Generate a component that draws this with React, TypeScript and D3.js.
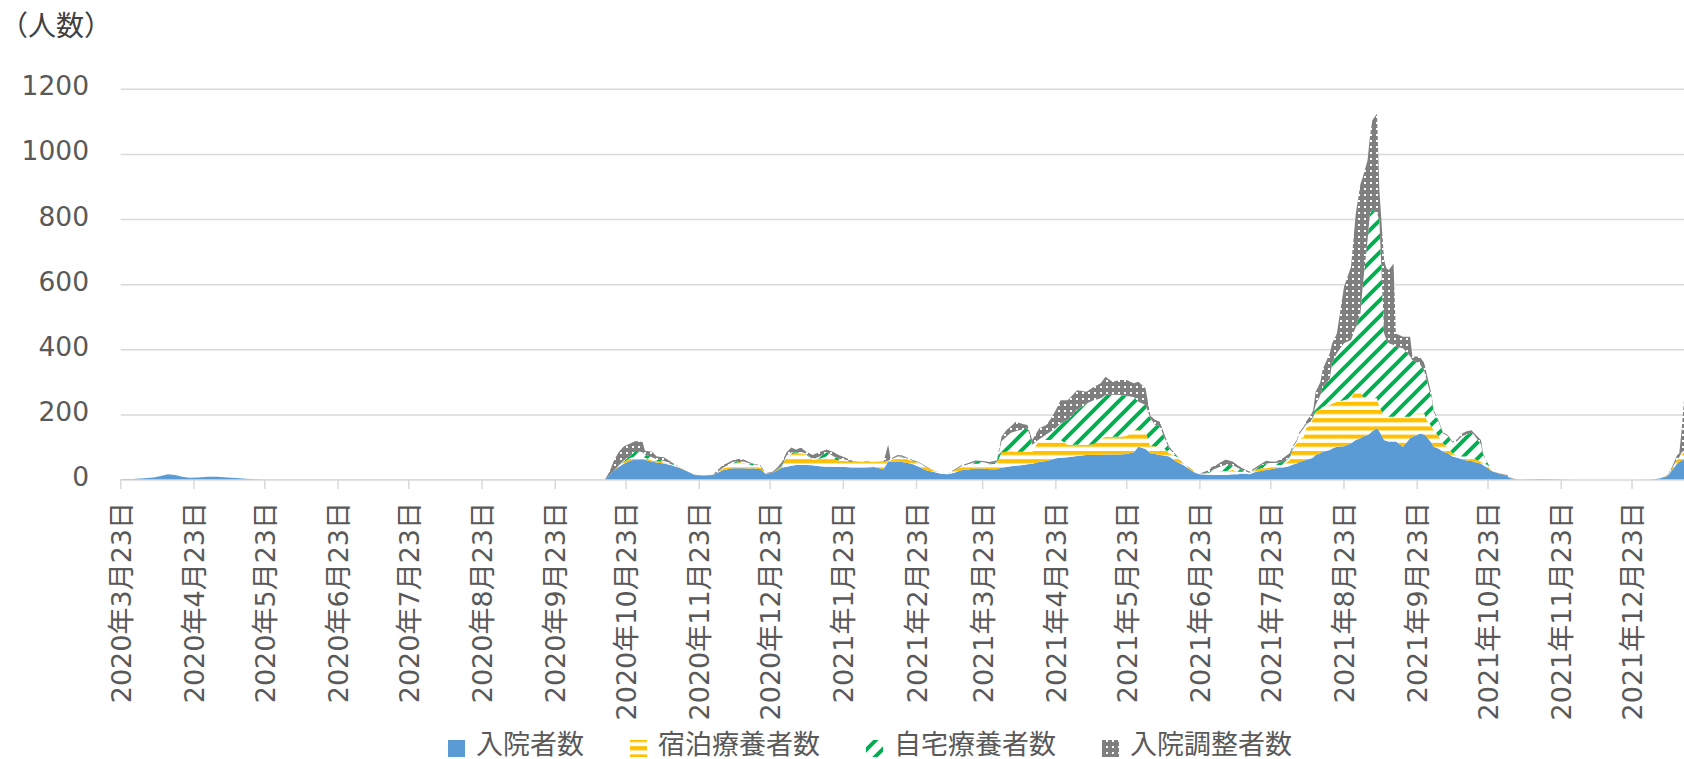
import { useEffect, useRef } from 'react';
import * as d3 from 'd3';

// day offsets from 2020-03-23 and the four stacked series (persons)
const days = [
  0, 5, 10, 14, 17, 20, 23, 26, 29, 33, 37, 41, 45, 49, 53, 57, 61, 90, 120, 150, 180, 204,
  205, 207, 209, 211, 213, 216, 218, 221, 222, 225, 227, 230, 233, 237, 240, 243, 247, 251,
  252, 255, 257, 259, 262, 264, 266, 268, 271, 273, 276, 278, 280, 282, 284, 286, 288, 290,
  293, 296, 299, 302, 304, 307, 310, 314, 319, 323, 325, 326, 329, 331, 335, 338, 341, 344,
  347, 350, 353, 356, 359, 362, 365, 368, 371, 373, 375, 377, 379, 382, 384, 386, 389, 392,
  394, 396, 398, 401, 405, 409, 412, 415, 417, 420, 423, 426, 429, 431, 434, 436, 438, 440,
  442, 444, 447, 450, 453, 455, 457, 459, 461, 462, 464, 466, 468, 471, 473, 475, 478, 481,
  483, 485, 487, 489, 492, 495, 496, 498, 499, 501, 502, 504, 505, 506, 508, 509, 512, 513,
  515, 518, 521, 523, 525, 526, 528, 529, 530, 532, 533, 535, 536, 537, 539, 540, 543, 546,
  547, 549, 550, 552, 553, 555, 556, 558, 560, 562, 564, 566, 568, 570, 572, 573, 576, 577,
  579, 580, 581, 584, 587, 589, 592, 602, 606, 615, 640, 648, 652, 655, 657, 659, 660, 661, 662,
];

const hospitalized = [
  2, 3, 5, 8, 12, 18, 15, 10, 7, 8, 10, 10, 8, 6, 4, 2, 1, 1, 1, 1, 1, 1,
  1, 15, 30, 41, 50, 60, 63, 64, 62, 56, 54, 51, 46, 36, 26, 15, 14, 15,
  20, 30, 33, 36, 36, 36, 35, 36, 33, 20, 22, 30, 38, 41, 44, 46, 46, 46,
  45, 42, 41, 41, 40, 40, 38, 38, 40, 33, 56, 56, 56, 55, 50, 41, 30, 25,
  20, 18, 22, 30, 32, 35, 35, 33, 33, 38, 40, 42, 44, 46, 48, 50, 55, 58,
  62, 67, 68, 70, 74, 77, 77, 77, 78, 78, 78, 80, 85, 102, 95, 82, 80, 77,
  75, 72, 56, 46, 31, 22, 18, 17, 16, 15, 15, 15, 15, 18, 18, 20, 18, 26,
  28, 31, 33, 36, 38, 43, 47, 51, 55, 59, 62, 66, 70, 77, 82, 87, 92, 97,
  102, 104, 113, 123, 128, 133, 138, 143, 150, 159, 150, 123, 120, 118, 118, 118, 102, 128,
  133, 138, 143, 140, 133, 115, 102, 97, 87, 82, 72, 68, 64, 60, 58, 55, 51, 45,
  36, 30, 26, 18, 12, 4, 1, 3, 2, 0, 0, 1, 5, 12, 31, 50, 56, 60, 63,
];

const hotel = [
  0, 0, 0, 0, 0, 0, 0, 0, 0, 0, 0, 0, 0, 0, 0, 0, 0, 0, 0, 0, 0, 0,
  0, 0, 0, 4, 5, 8, 9, 8, 6, 4, 4, 3, 3, 2, 0, 0, 0, 0,
  0, 5, 7, 14, 19, 16, 13, 8, 5, 2, 0, 2, 4, 29, 36, 36, 36, 34,
  17, 23, 31, 23, 20, 18, 17, 18, 17, 22, 2, 4, 14, 15, 8, 11, 10, 5,
  3, 2, 8, 10, 13, 15, 15, 15, 17, 47, 47, 46, 43, 41, 39, 37, 68, 65,
  61, 56, 55, 38, 34, 31, 33, 48, 55, 55, 55, 55, 68, 51, 55, 22, 24, 25,
  20, 10, 16, 4, 4, 2, 2, 3, 6, 10, 10, 13, 13, 13, 7, 5, 4, 6,
  8, 5, 7, 9, 8, 18, 43, 62, 70, 74, 98, 104, 125, 133, 136, 138, 138, 138,
  138, 141, 138, 153, 142, 123, 115, 108, 101, 92, 75, 71, 74, 76, 76, 76, 92, 66,
  67, 67, 61, 64, 51, 50, 51, 38, 25, 18, 10, 7, 8, 12, 12, 10, 5, 7,
  9, 3, 0, 0, 0, 0, 0, 0, 0, 0, 0, 0, 0, 2, 5, 12, 12, 20, 22,
];

const home = [
  0, 0, 0, 0, 0, 0, 0, 0, 0, 0, 0, 0, 0, 0, 0, 0, 0, 0, 0, 0, 0, 0,
  0, 0, 0, 0, 5, 7, 18, 13, 10, 10, 6, 4, 3, 0, 0, 0, 0, 0,
  0, 3, 5, 5, 3, 4, 4, 4, 4, 0, 0, 0, 3, 5, 5, 3, 4, 2,
  2, 7, 13, 8, 6, 4, 2, 1, 1, 0, 2, 2, 2, 2, 2, 2, 0, 0,
  0, 0, 0, 2, 3, 5, 5, 2, 5, 35, 46, 57, 63, 68, 72, 21, 2, 17,
  27, 37, 51, 76, 107, 127, 135, 125, 128, 129, 128, 123, 102, 87, 80, 86, 66, 63,
  35, 13, 3, 0, 0, 0, 0, 0, 3, 5, 11, 14, 18, 14, 13, 5, 0, 4,
  9, 15, 12, 7, 9, 9, 5, 5, 15, 27, 12, 10, 5, 20, 42, 61, 80, 125,
  149, 175, 179, 194, 242, 344, 484, 567, 578, 569, 573, 256, 236, 226, 221, 215, 211, 186,
  168, 157, 154, 131, 123, 90, 57, 45, 31, 35, 33, 45, 63, 68, 75, 75, 54, 23,
  6, 3, 0, 0, 0, 0, 0, 0, 0, 0, 0, 0, 0, 0, 0, 2, 2, 5, 5,
];

const adjusting = [
  0, 0, 0, 0, 0, 0, 0, 0, 0, 0, 0, 0, 0, 0, 0, 0, 0, 0, 0, 0, 0, 0,
  0, 10, 32, 42, 43, 38, 30, 32, 12, 17, 8, 12, 4, 0, 0, 1, 0, 1,
  5, 7, 7, 5, 7, 6, 3, 2, 3, 0, 3, 6, 10, 10, 15, 8, 14, 6,
  13, 14, 9, 13, 11, 6, 1, 0, 0, 1, 48, 3, 5, 3, 2, 1, 2, 0,
  0, 0, 2, 3, 4, 5, 3, 5, 5, 13, 20, 20, 29, 17, 10, 15, 34, 29,
  40, 55, 71, 61, 61, 36, 41, 47, 56, 40, 46, 49, 42, 62, 51, 7, 15, 14,
  10, 7, 2, 1, 1, 0, 0, 5, 6, 10, 10, 13, 17, 11, 7, 6, 4, 5,
  5, 8, 5, 4, 11, 12, 5, 5, 5, 4, 8, 20, 15, 41, 40, 54, 79, 60,
  61, 173, 225, 348, 398, 331, 245, 236, 276, 305, 92, 225, 220, 225, 250, 41, 35, 60,
  11, 17, 21, 25, 20, 11, 5, 4, 3, 3, 3, 5, 8, 10, 8, 5, 13, 5,
  0, 0, 0, 2, 3, 1, 0, 0, 0, 0, 0, 0, 0, 1, 5, 11, 12, 68, 155,
];

const seriesKeys = ['hospitalized', 'hotel', 'home', 'adjusting'];
const seriesLabels = ['入院者数', '宿泊療養者数', '自宅療養者数', '入院調整者数'];
const seriesFills = ['#5B9BD5', 'url(#pat-hotel)', 'url(#pat-home)', 'url(#pat-adjust)'];
const yTicks = [0, 200, 400, 600, 800, 1000, 1200];
const monthTickCount = 22; // 2020年3月23日 .. 2021年12月23日

const W = 1684;
const H = 759;
const FONT = '"DejaVu Sans", "Noto Sans CJK JP", sans-serif';
const TEXT = '#595959';

type Row = { date: Date; [key: string]: number | Date };

export default function App() {
  const svgRef = useRef<SVGSVGElement>(null);

  useEffect(() => {
    if (!svgRef.current) return;
    const svg = d3.select(svgRef.current);
    svg.selectAll('*').remove();

    const start = new Date(Date.UTC(2020, 2, 23));
    const plotLeft = 120.7;

    const x = d3
      .scaleUtc()
      .domain([start, d3.utcDay.offset(start, 662)])
      .range([plotLeft, W]);
    const y = d3.scaleLinear().domain([0, 1200]).range([480, 89.3]);

    // fill patterns
    const defs = svg.append('defs');
    const ph = defs
      .append('pattern')
      .attr('id', 'pat-hotel')
      .attr('patternUnits', 'userSpaceOnUse')
      .attr('width', 8)
      .attr('height', 8.2);
    ph.append('rect').attr('width', 8).attr('height', 8.2).attr('fill', '#fff');
    ph.append('rect').attr('width', 8).attr('height', 4.1).attr('fill', '#FFC000');

    const pg = defs
      .append('pattern')
      .attr('id', 'pat-home')
      .attr('patternUnits', 'userSpaceOnUse')
      .attr('width', 16)
      .attr('height', 16);
    pg.append('rect').attr('width', 16).attr('height', 16).attr('fill', '#fff');
    pg.append('path')
      .attr('d', 'M-4,4L4,-4M0,16L16,0M12,20L20,12')
      .attr('stroke', '#00B050')
      .attr('stroke-width', 4);

    const pa = defs
      .append('pattern')
      .attr('id', 'pat-adjust')
      .attr('patternUnits', 'userSpaceOnUse')
      .attr('width', 6)
      .attr('height', 6);
    pa.append('rect').attr('width', 6).attr('height', 6).attr('fill', '#7F7F7F');
    pa.append('rect').attr('x', 2).attr('y', 2).attr('width', 2).attr('height', 2).attr('fill', '#fff');

    // gridlines
    svg.append('g')
      .selectAll('line')
      .data(yTicks.filter((t) => t > 0))
      .join('line')
      .attr('x1', plotLeft)
      .attr('x2', W)
      .attr('y1', (d) => y(d))
      .attr('y2', (d) => y(d))
      .attr('stroke', '#D9D9D9')
      .attr('stroke-width', 1.5);

    // stacked areas
    const rows: Row[] = days.map((d, i) => ({
      date: d3.utcDay.offset(start, d),
      hospitalized: hospitalized[i],
      hotel: hotel[i],
      home: home[i],
      adjusting: adjusting[i],
    }));
    const stacked = d3.stack<Row>().keys(seriesKeys).value((r, k) => r[k] as number)(rows);
    const area = d3
      .area<d3.SeriesPoint<Row>>()
      .x((p) => x(p.data.date))
      .y0((p) => y(p[0]))
      .y1((p) => y(p[1]));

    svg.append('g')
      .selectAll('path')
      .data(stacked)
      .join('path')
      .attr('d', (s) => area(s))
      .attr('fill', (_, i) => seriesFills[i]);

    // x axis
    svg.append('line')
      .attr('x1', plotLeft)
      .attr('x2', W)
      .attr('y1', y(0))
      .attr('y2', y(0))
      .attr('stroke', '#D9D9D9')
      .attr('stroke-width', 1.5);

    const tickDates = d3.range(monthTickCount).map((i) => new Date(Date.UTC(2020, 2 + i, 23)));
    const fmt = d3.utcFormat('%Y年%-m月%-d日');
    const xt = svg.append('g');
    xt.selectAll('line')
      .data(tickDates)
      .join('line')
      .attr('x1', (d) => x(d))
      .attr('x2', (d) => x(d))
      .attr('y1', y(0))
      .attr('y2', y(0) + 9)
      .attr('stroke', '#D9D9D9')
      .attr('stroke-width', 1.5);
    xt.selectAll('text')
      .data(tickDates)
      .join('text')
      .attr('transform', (d) => `translate(${x(d) + 10},502) rotate(-90)`)
      .attr('text-anchor', 'end')
      .attr('font-family', FONT)
      .attr('font-size', 27)
      .attr('fill', TEXT)
      .text((d) => fmt(d));

    // y labels
    svg.append('g')
      .selectAll('text')
      .data(yTicks)
      .join('text')
      .attr('x', 89)
      .attr('y', (d) => y(d) + 6)
      .attr('text-anchor', 'end')
      .attr('font-family', FONT)
      .attr('font-size', 26.5)
      .attr('fill', TEXT)
      .text((d) => d);

    svg.append('text')
      .attr('x', 0)
      .attr('y', 36)
      .attr('font-family', FONT)
      .attr('font-size', 28)
      .attr('fill', '#404040')
      .text('（人数）');

    // legend
    const itemWidths = seriesLabels.map((l) => 28 + l.length * 27 + 46);
    let lx = 448;
    const lg = svg.append('g');
    seriesLabels.forEach((label, i) => {
      lg.append('rect')
        .attr('x', lx)
        .attr('y', 740)
        .attr('width', 17)
        .attr('height', 17)
        .attr('fill', seriesFills[i]);
      lg.append('text')
        .attr('x', lx + 28)
        .attr('y', 754)
        .attr('font-family', FONT)
        .attr('font-size', 27)
        .attr('fill', TEXT)
        .text(label);
      lx += itemWidths[i];
    });
  }, []);

  return (
    <svg
      ref={svgRef}
      width={W}
      height={H}
      style={{ position: 'absolute', left: 0, top: 0, background: '#fff' }}
    />
  );
}
